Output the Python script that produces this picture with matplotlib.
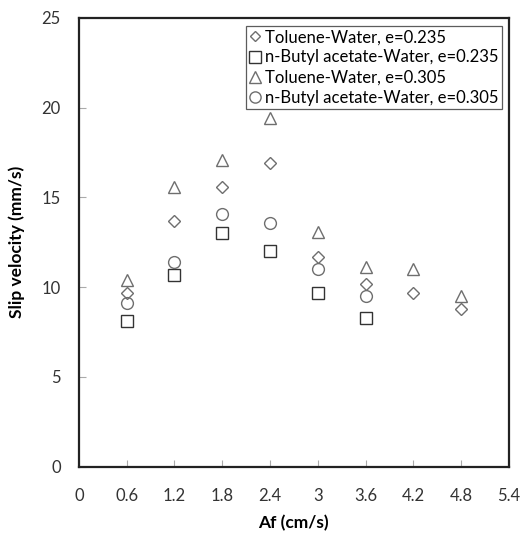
import matplotlib.pyplot as plt

# data
af = [0.6, 1.2, 1.8, 2.4, 3.0, 3.6, 4.2, 4.8]
tol_235 = [9.7, 13.7, 15.6, 16.9, 11.7, 10.2, 9.7, 8.8]
but_235 = [8.1, 10.7, 13.0, 12.0, 9.7, 8.3]
tol_305 = [10.4, 15.6, 17.1, 19.4, 13.1, 11.1, 11.0, 9.5]
but_305 = [9.1, 11.4, 14.1, 13.6, 11.0, 9.5]

x_ticks = [0, 0.6, 1.2, 1.8, 2.4, 3, 3.6, 4.2, 4.8, 5.4]
x_tick_labels = ["0", "0.6", "1.2", "1.8", "2.4", "3", "3.6", "4.2", "4.8", "5.4"]

plt.rcParams["font.family"] = ["Lato", "DejaVu Sans"]

fig = plt.figure(figsize=(5.22, 5.39), dpi=100)
ax = fig.add_axes([0.151, 0.134, 0.824, 0.833])

gris = "#6e6e6e"
ax.plot(af, tol_235, linestyle="none", marker="D", markersize=5.8,
        mfc="none", mec=gris, mew=1.0, label="Toluene-Water, e=0.235")
ax.plot(af[:len(but_235)], but_235, linestyle="none", marker="s", markersize=8.5,
        mfc="none", mec="#333333", mew=1.0, label="n-Butyl acetate-Water, e=0.235")
ax.plot(af, tol_305, linestyle="none", marker="^", markersize=8.5,
        mfc="none", mec=gris, mew=1.0, label="Toluene-Water, e=0.305")
ax.plot(af[:len(but_305)], but_305, linestyle="none", marker="o", markersize=8.5,
        mfc="none", mec=gris, mew=1.0, label="n-Butyl acetate-Water, e=0.305")

ax.set_xlim(0, 5.4)
ax.set_ylim(0, 25)
ax.set_xticks(x_ticks)
ax.set_xticklabels(x_tick_labels)
ax.set_yticks([0, 5, 10, 15, 20, 25])

ax.tick_params(direction="in", length=5, width=0.8, color="#aaaaaa",
               labelsize=12, labelcolor="#333333")
ax.tick_params(axis="x", pad=15)
ax.tick_params(axis="y", pad=13)

for s in ax.spines.values():
    s.set_linewidth(1.6)
    s.set_color("#222222")

ax.set_xlabel("Af (cm/s)", fontsize=12.5, fontweight="bold", labelpad=8)
ax.set_ylabel("Slip velocity (mm/s)", fontsize=12.5, fontweight="bold", labelpad=12)

leg = ax.legend(loc="upper right", bbox_to_anchor=(0.983, 0.982), fontsize=12,
                frameon=True, fancybox=False, handlelength=0.7, handletextpad=0.25,
                borderpad=0.2, labelspacing=0.25, borderaxespad=0, markerscale=0.95)
leg.get_frame().set_edgecolor("#333333")
leg.get_frame().set_linewidth(0.9)

fig.savefig("out.png", dpi=100)
